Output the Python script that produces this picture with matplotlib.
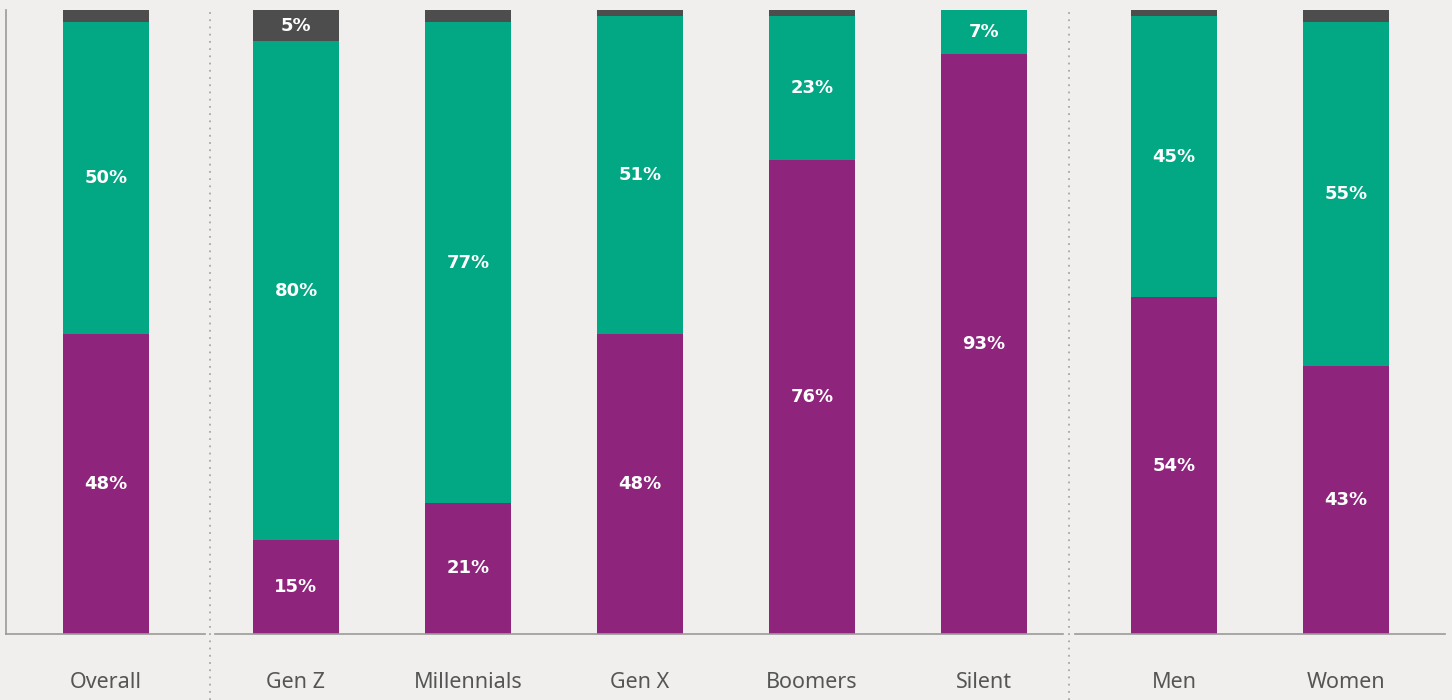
import matplotlib
matplotlib.use("Agg")
import matplotlib.pyplot as plt
from matplotlib.lines import Line2D

# Share of respondents per answer, by audience group (percent)
groups = [
    ["Overall"],
    ["Gen Z", "Millennials", "Gen X", "Boomers", "Silent"],
    ["Men", "Women"],
]
bottom_vals = [[48], [15, 21, 48, 76, 93], [54, 43]]
middle_vals = [[50], [80, 77, 51, 23, 7], [45, 55]]
top_vals = [[2], [5, 2, 1, 1, 0], [1, 2]]
top_labels = [[None], ["5%", None, None, None, None], [None, None]]

PURPLE = "#8E247C"
GREEN = "#01A883"
DARK = "#4D4D4D"
BG = "#F0EFED"
AXIS = "#9A9A9A"
TEXT = "#555555"

plt.rcParams["font.family"] = ["Noto Sans", "DejaVu Sans"]

W, H = 1452, 700
fig = plt.figure(figsize=(W / 100, H / 100), dpi=100, facecolor=BG)

px_top, px_base = 10, 634
pitch = 172.0
bar_w = 86 / pitch
# (left px, right px, first bar centre px) for each panel
panels = [(6, 205, 106), (215, 1063, 296), (1075, 1445, 1174)]

lbl = dict(ha="center", va="center", color="white", fontsize=13,
           fontweight="bold", family=["DejaVu Sans"])

for gi, (x0, x1, c0) in enumerate(panels):
    ax = fig.add_axes([x0 / W, (H - px_base) / H, (x1 - x0) / W,
                       (px_base - px_top) / H])
    ax.set_facecolor("none")
    cats = groups[gi]
    xs = list(range(len(cats)))
    b = bottom_vals[gi]
    m = middle_vals[gi]
    t = top_vals[gi]
    ax.bar(xs, b, width=bar_w, color=PURPLE, linewidth=0)
    ax.bar(xs, m, width=bar_w, bottom=b, color=GREEN, linewidth=0)
    ax.bar(xs, t, width=bar_w, bottom=[bb + mm for bb, mm in zip(b, m)],
           color=DARK, linewidth=0)
    for i in xs:
        ax.text(i, b[i] / 2, f"{b[i]}%", **lbl)
        ax.text(i, b[i] + m[i] / 2, f"{m[i]}%", **lbl)
        if top_labels[gi][i]:
            ax.text(i, b[i] + m[i] + t[i] / 2, top_labels[gi][i], **lbl)
    ax.set_xlim((x0 - c0) / pitch, (x1 - c0) / pitch)
    ax.set_ylim(0, 100)
    ax.set_xticks(xs)
    ax.set_xticklabels(cats, fontsize=15.5, color=TEXT)
    ax.tick_params(axis="x", length=0, pad=27)
    ax.set_yticks([])
    for s in ("top", "right"):
        ax.spines[s].set_visible(False)
    ax.spines["left"].set_visible(gi == 0)
    ax.spines["left"].set_color(AXIS)
    ax.spines["left"].set_linewidth(1.2)
    ax.spines["bottom"].set_color(AXIS)
    ax.spines["bottom"].set_linewidth(1.2)

# Dotted separators between the audience groups
for xp in (210, 1069):
    fig.add_artist(Line2D([xp / W, xp / W], [0, (H - px_top) / H],
                          transform=fig.transFigure, color="#A8A8A8",
                          linestyle=(0, (1, 3)), linewidth=1.3))

fig.savefig("out.png", dpi=100, facecolor=BG)
